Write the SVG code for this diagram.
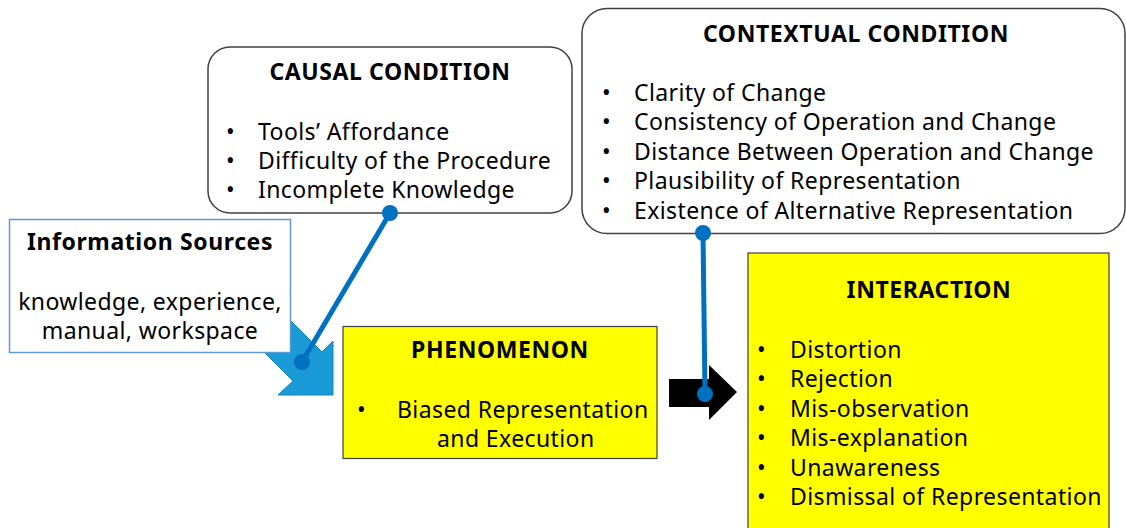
<svg xmlns="http://www.w3.org/2000/svg" width="1126" height="528" viewBox="0 0 1126 528">
<style>
.box{fill:#fff;stroke:#404040;stroke-width:1.5}
.yel{fill:#ffff00;stroke:#404040;stroke-width:1.2}
text{font-family:"Noto Sans","Open Sans",sans-serif;font-size:23px;fill:#000;letter-spacing:0.4px}
.t{font-weight:bold;text-anchor:middle;letter-spacing:0.6px}
.c{text-anchor:middle}
.conn{stroke:#0070c0;stroke-width:5;fill:none;stroke-linecap:round}
.dot{fill:#0070c0}
</style>
<rect width="1126" height="528" fill="#fff"/>
<g id="info-arrow">
<polygon points="333,395 278,395 293,381 233,321 262,292 322,352 333,341" fill="#1a9bd7" stroke="#1585bd" stroke-width="1"/>
</g>
<g id="information-sources">
<rect x="9.5" y="219.5" width="281" height="133" fill="#fff" stroke="#5b9bd5" stroke-width="1.5"/>
<text class="t" x="150" y="250">Information Sources</text>
<text class="c" x="150" y="310">knowledge, experience,</text>
<text class="c" x="150" y="339">manual, workspace</text>
</g>
<g id="causal-condition">
<rect class="box" x="208" y="47" width="364" height="166" rx="22"/>
<text class="t" x="390" y="80">CAUSAL CONDITION</text>
<text x="226" y="140">•</text><text x="258" y="140">Tools’ Affordance</text>
<text x="226" y="169">•</text><text x="258" y="169">Difficulty of the Procedure</text>
<text x="226" y="198">•</text><text x="258" y="198">Incomplete Knowledge</text>
</g>
<g id="contextual-condition">
<rect class="box" x="582" y="8.5" width="543" height="225" rx="25"/>
<text class="t" x="856" y="42">CONTEXTUAL CONDITION</text>
<text x="602" y="101">•</text><text x="634" y="101">Clarity of Change</text>
<text x="602" y="130">•</text><text x="634" y="130">Consistency of Operation and Change</text>
<text x="602" y="160">•</text><text x="634" y="160">Distance Between Operation and Change</text>
<text x="602" y="189">•</text><text x="634" y="189">Plausibility of Representation</text>
<text x="602" y="219">•</text><text x="634" y="219">Existence of Alternative Representation</text>
</g>
<g id="phenomenon">
<rect class="yel" x="343" y="326.5" width="314" height="132"/>
<text class="t" x="500" y="358">PHENOMENON</text>
<text x="357" y="418">•</text><text x="397" y="418">Biased Representation</text>
<text x="437" y="447">and Execution</text>
</g>
<g id="interaction">
<rect class="yel" x="748" y="253" width="361" height="290"/>
<text class="t" x="929" y="298">INTERACTION</text>
<text x="757" y="358">•</text><text x="790" y="358">Distortion</text>
<text x="757" y="387">•</text><text x="790" y="387">Rejection</text>
<text x="757" y="417">•</text><text x="790" y="417">Mis-observation</text>
<text x="757" y="446">•</text><text x="790" y="446">Mis-explanation</text>
<text x="757" y="476">•</text><text x="790" y="476">Unawareness</text>
<text x="757" y="505">•</text><text x="790" y="505">Dismissal of Representation</text>
</g>
<g id="connectors">
<polygon points="669,379 709,379 709,365 737,392 709,420 709,407 669,407" fill="#000"/>
<line class="conn" x1="390" y1="213" x2="302" y2="362"/>
<circle class="dot" cx="390" cy="213" r="8"/>
<circle class="dot" cx="302" cy="362" r="8"/>
<line class="conn" x1="703" y1="233" x2="705" y2="394"/>
<circle class="dot" cx="703" cy="233" r="8"/>
<circle class="dot" cx="705" cy="394" r="8"/>
</g>
</svg>
